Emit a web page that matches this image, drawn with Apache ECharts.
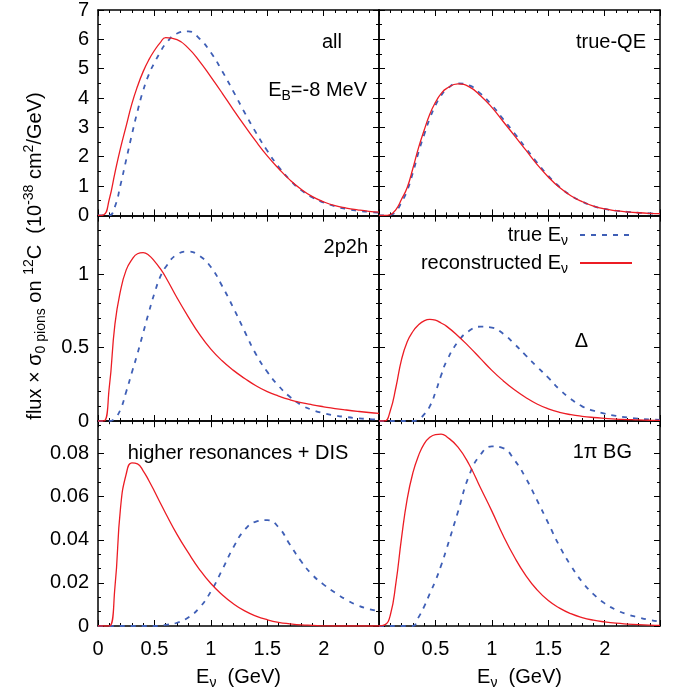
<!DOCTYPE html>
<html>
<head>
<meta charset="utf-8">
<script src="https://cdn.jsdelivr.net/npm/echarts@6/dist/echarts.min.js"></script>
<style>
  html, body { margin: 0; padding: 0; background: #fff; }
  #c { width: 680px; height: 691px; }
</style>
</head>
<body>
<div id="c"></div>
<script>
// Neutrino energy grid (GeV)
const energy = [0, 0.05, 0.1, 0.15, 0.2, 0.25, 0.3, 0.35, 0.4, 0.45, 0.5, 0.55, 0.6, 0.7, 0.8, 0.9, 1.0,
  1.1, 1.2, 1.3, 1.4, 1.5, 1.6, 1.7, 1.8, 1.9, 2.0, 2.1, 2.2, 2.3, 2.4, 2.49];

// all events (10^-38 cm^2/GeV)
const allReco = [0, 0.02, 0.55, 1.45, 2.3, 3.05, 3.8, 4.4, 4.9, 5.3, 5.62, 5.88, 6.06, 5.99, 5.7, 5.25, 4.72,
  4.17, 3.6, 3.05, 2.52, 2.03, 1.6, 1.21, 0.89, 0.64, 0.46, 0.33, 0.25, 0.19, 0.14, 0.11];
const allTrue = [0, 0, 0, 0.3, 1.05, 1.9, 2.75, 3.55, 4.25, 4.8, 5.2, 5.55, 5.85, 6.2, 6.27, 6.02, 5.55,
  4.92, 4.22, 3.5, 2.82, 2.2, 1.66, 1.21, 0.86, 0.61, 0.44, 0.31, 0.22, 0.16, 0.12, 0.09];

// true-QE
const qeReco = [0, 0, 0.03, 0.2, 0.55, 0.95, 1.6, 2.3, 2.9, 3.45, 3.85, 4.15, 4.33, 4.48, 4.38, 4.08, 3.68,
  3.2, 2.72, 2.23, 1.74, 1.31, 0.95, 0.67, 0.47, 0.32, 0.22, 0.16, 0.12, 0.09, 0.07, 0.06];
const qeTrue = [0, 0, 0.02, 0.14, 0.45, 0.85, 1.45, 2.15, 2.75, 3.3, 3.75, 4.08, 4.3, 4.5, 4.43, 4.15, 3.76,
  3.28, 2.8, 2.3, 1.8, 1.35, 0.97, 0.68, 0.47, 0.32, 0.22, 0.16, 0.12, 0.09, 0.07, 0.05];

// 2p2h
const ppReco = [0, 0, 0.23, 0.66, 0.89, 1.03, 1.1, 1.14, 1.148, 1.13, 1.09, 1.04, 0.98, 0.84, 0.71, 0.59, 0.49,
  0.41, 0.345, 0.29, 0.24, 0.2, 0.17, 0.145, 0.125, 0.11, 0.097, 0.085, 0.075, 0.066, 0.058, 0.052];
const ppTrue = [0, 0, 0, 0.02, 0.08, 0.2, 0.33, 0.46, 0.6, 0.74, 0.87, 0.98, 1.05, 1.135, 1.155, 1.125, 1.05,
  0.92, 0.77, 0.61, 0.455, 0.335, 0.24, 0.165, 0.11, 0.075, 0.053, 0.038, 0.027, 0.019, 0.013, 0.01];

// Delta
const deltaReco = [0, 0, 0.07, 0.23, 0.42, 0.54, 0.61, 0.655, 0.683, 0.693, 0.687, 0.668, 0.645, 0.58, 0.505, 0.425, 0.345,
  0.275, 0.213, 0.16, 0.116, 0.083, 0.059, 0.043, 0.032, 0.024, 0.018, 0.013, 0.01, 0.007, 0.005, 0.004];
const deltaTrue = [0, 0, 0, 0, 0, 0, 0, 0.01, 0.045, 0.1, 0.195, 0.31, 0.41, 0.54, 0.615, 0.643, 0.637,
  0.595, 0.525, 0.447, 0.37, 0.295, 0.215, 0.15, 0.1, 0.07, 0.05, 0.035, 0.024, 0.016, 0.011, 0.008];

// higher resonances + DIS
const hrReco = [0, 0, 0, 0.018, 0.055, 0.0705, 0.0757, 0.0752, 0.072, 0.0675, 0.0625, 0.0573, 0.0522, 0.0425, 0.034, 0.0262, 0.0197,
  0.0145, 0.0103, 0.007, 0.0046, 0.0029, 0.0017, 0.001, 0.0005, 0.0003, 0.0001, 0, 0, 0, 0, 0];
const hrTrue = [0, 0, 0, 0, 0, 0, 0, 0, 0, 0, 0, 0.0002, 0.0005, 0.0015, 0.004, 0.0085, 0.016,
  0.026, 0.0365, 0.0446, 0.0484, 0.0491, 0.0458, 0.0378, 0.03, 0.0237, 0.0192, 0.0155, 0.0122, 0.0096, 0.0079, 0.0068];

// 1pi background
const piReco = [0, 0.0005, 0.005, 0.02, 0.041, 0.059, 0.071, 0.079, 0.0845, 0.0875, 0.0888, 0.089, 0.0878, 0.083, 0.0748, 0.064, 0.0533,
  0.042, 0.032, 0.0235, 0.0168, 0.0118, 0.0083, 0.0057, 0.0039, 0.0027, 0.0019, 0.0013, 0.0009, 0.0006, 0.0004, 0.0003];
const piTrue = [0, 0, 0, 0, 0, 0, 0, 0.004, 0.009, 0.015, 0.021, 0.028, 0.036, 0.053, 0.07, 0.0795, 0.0833,
  0.0825, 0.077, 0.0687, 0.0584, 0.0477, 0.037, 0.028, 0.0205, 0.0148, 0.0105, 0.0075, 0.0054, 0.004, 0.0028, 0.002];

const seriesNames = ['true', 'reconstructed'];

// ---- layout / style ----
const FONT = '"Liberation Sans", Arial, Helvetica, sans-serif';
const BLACK = '#000';
const RED = '#ec1c24';
const BLUE = '#3f5fb6';
const LEFTS = [98, 379], W = 281;
const TOPS = [10, 215.6, 421.2], H = 205.4;
const X_MAX = 2.49;

const rows = [
  { max: 7, major: 1, minor: 0.5 },
  { max: 1.4, major: 0.5, minor: 0.1 },
  { max: 0.095, major: 0.02, minor: 0.02 / 3 }
];

const panels = [
  { row: 0, col: 0, reco: allReco, tru: allTrue },
  { row: 0, col: 1, reco: qeReco, tru: qeTrue },
  { row: 1, col: 0, reco: ppReco, tru: ppTrue },
  { row: 1, col: 1, reco: deltaReco, tru: deltaTrue },
  { row: 2, col: 0, reco: hrReco, tru: hrTrue },
  { row: 2, col: 1, reco: piReco, tru: piTrue }
];

const RICH = {
  t: { fontFamily: FONT, fontSize: 20, color: BLACK, fill: BLACK, lineHeight: 26 },
  b: { fontFamily: FONT, fontSize: 14, color: BLACK, fill: BLACK, lineHeight: 12, verticalAlign: 'bottom' },
  p: { fontFamily: FONT, fontSize: 14, color: BLACK, fill: BLACK, lineHeight: 12, verticalAlign: 'top' }
};

const isMultiple = (v, s) => Math.abs(v / s - Math.round(v / s)) < 1e-6;
const fmt = v => String(parseFloat(v.toFixed(4)));

function valueAxis(gridIndex, position, max, step, isMajor, showLabels, margin, extra) {
  return Object.assign({
    type: 'value', gridIndex, position, min: 0, max, interval: step,
    axisLine: { show: isMajor, onZero: false, lineStyle: { color: BLACK, width: 1.5 } },
    axisTick: { show: true, inside: true, length: isMajor ? 6 : 3, lineStyle: { color: BLACK, width: 1 } },
    axisLabel: {
      show: showLabels, margin, fontFamily: FONT, fontSize: 20, color: BLACK,
      formatter: v => isMultiple(v, step) ? fmt(v) : ''
    },
    splitLine: { show: false }, minorTick: { show: false }, minorSplitLine: { show: false }
  }, extra || {});
}

const grids = [], xAxes = [], yAxes = [], series = [];
panels.forEach((p, gi) => {
  const r = rows[p.row];
  grids.push({ left: LEFTS[p.col], top: TOPS[p.row], width: W, height: H, containLabel: false });
  const bottomRow = p.row === 2;
  const xName = bottomRow ? {
    name: '{t|E}{b|ν}{t|  (GeV)}', nameLocation: 'middle', nameGap: 38,
    nameTextStyle: { rich: RICH }
  } : {};
  const xi = xAxes.length;
  xAxes.push(valueAxis(gi, 'bottom', X_MAX, 0.5, true, bottomRow, 13, xName));
  xAxes.push(valueAxis(gi, 'bottom', X_MAX, 0.1, false, false, 8));
  xAxes.push(valueAxis(gi, 'top', X_MAX, 0.5, true, false, 8));
  xAxes.push(valueAxis(gi, 'top', X_MAX, 0.1, false, false, 8));
  const yi = yAxes.length;
  yAxes.push(valueAxis(gi, 'left', r.max, r.major, true, p.col === 0, 9));
  yAxes.push(valueAxis(gi, 'left', r.max, r.minor, false, false, 9));
  yAxes.push(valueAxis(gi, 'right', r.max, r.major, true, false, 9));
  yAxes.push(valueAxis(gi, 'right', r.max, r.minor, false, false, 9));

  const common = { type: 'line', xAxisIndex: xi, yAxisIndex: yi, symbol: 'none', showSymbol: false,
    smooth: 0.5, silent: true, animation: false, clip: true };
  series.push(Object.assign({}, common, {
    name: seriesNames[0], data: energy.map((e, k) => [e, p.tru[k]]),
    itemStyle: { color: BLUE }, lineStyle: { color: BLUE, width: 1.8, type: [5, 6] }
  }));
  series.push(Object.assign({}, common, {
    name: seriesNames[1], data: energy.map((e, k) => [e, p.reco[k]]),
    itemStyle: { color: RED }, lineStyle: { color: RED, width: 1.3 }
  }));
});

function label(text, x, y, align) {
  return { type: 'text', z: 20, style: {
    text, x, y, align, verticalAlign: 'middle', rich: RICH,
    fontFamily: FONT, fontSize: 20, fill: BLACK
  } };
}

const graphics = [
  label('{t|all}', 342, 42, 'right'),
  label('{t|E}{b|B}{t|=-8 MeV}', 367, 90, 'right'),
  label('{t|true-QE}', 646, 42, 'right'),
  label('{t|2p2h}', 368, 247, 'right'),
  label('{t|Δ}', 581.5, 341, 'center'),
  label('{t|higher resonances + DIS}', 238, 453, 'center'),
  label('{t|1π BG}', 632, 452, 'right'),
  {
    type: 'text', z: 20, x: 35, y: 256, rotation: Math.PI / 2,
    style: {
      text: '{t|flux × σ}{b|0 pions}{t| on }{p|12}{t|C  (10}{p|-38}{t| cm}{p|2}{t|/GeV)}',
      align: 'center', verticalAlign: 'middle', rich: RICH, fontFamily: FONT, fontSize: 20, fill: BLACK
    }
  }
];

const chart = echarts.init(document.getElementById('c'), null, { renderer: 'canvas', width: 680, height: 691 });
chart.setOption({
  animation: false,
  backgroundColor: '#fff',
  grid: grids,
  xAxis: xAxes,
  yAxis: yAxes,
  series,
  legend: {
    data: seriesNames, orient: 'vertical', align: 'right', right: 47, top: 225, padding: 0,
    itemWidth: 52, itemHeight: 10, itemGap: 5, selectedMode: false,
    itemStyle: { opacity: 0 },
    formatter: n => n === 'true' ? '{t|true E}{b|ν}' : '{t|reconstructed E}{b|ν}',
    textStyle: { rich: RICH, padding: [0, 7, 0, 0] }
  },
  graphic: graphics
});
</script>
</body>
</html>
